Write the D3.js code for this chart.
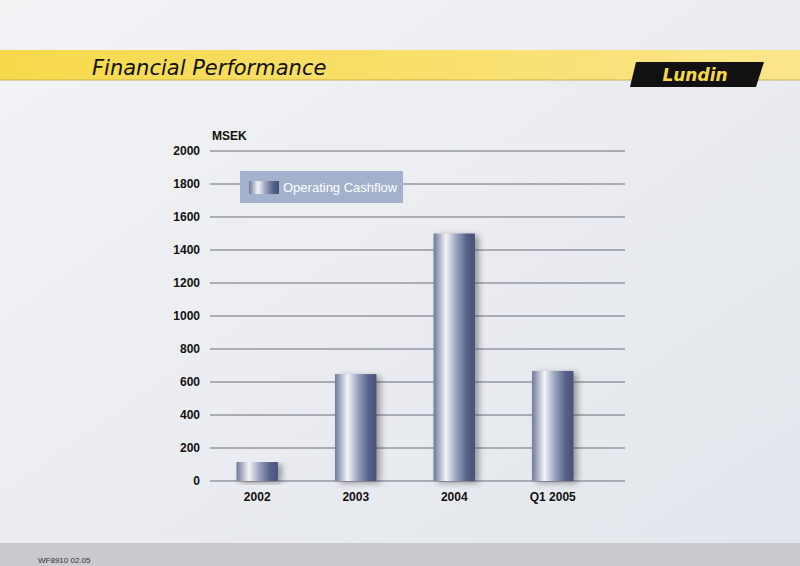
<!DOCTYPE html>
<html><head><meta charset="utf-8">
<script src="https://cdn.jsdelivr.net/npm/d3@7"></script>
<style>body{margin:0}svg{display:block}</style></head>
<body><svg id="c" width="800" height="566"></svg>
<script>
const categories=["2002","2003","2004","Q1 2005"];
const values=[115,648,1500,667];
const yTicks=[0,200,400,600,800,1000,1200,1400,1600,1800,2000];
const seriesName="Operating Cashflow";

const svg=d3.select("#c");
const defs=svg.append("defs");
const bg=defs.append("linearGradient").attr("id","bg").attr("x1",0).attr("x2",1).attr("y1",0).attr("y2",1);
bg.append("stop").attr("offset","0").attr("stop-color","#f2f3f5");
bg.append("stop").attr("offset","1").attr("stop-color","#e2e6ec");
const bar=defs.append("linearGradient").attr("id","bar");
[["0","#6e7898"],["0.3","#f4f5f8"],["0.55","#9aa3bd"],["0.8","#56628a"],["1","#46527a"]].forEach(s=>bar.append("stop").attr("offset",s[0]).attr("stop-color",s[1]));
const yel=defs.append("linearGradient").attr("id","yel");
yel.append("stop").attr("offset","0").attr("stop-color","#f6d94a");
yel.append("stop").attr("offset","1").attr("stop-color","#fbe58a");
const f=defs.append("filter").attr("id","sh").attr("x","-30%").attr("width","160%");
f.append("feGaussianBlur").attr("stdDeviation",3);

svg.append("rect").attr("width",800).attr("height",566).attr("fill","url(#bg)");
svg.append("rect").attr("y",543).attr("width",800).attr("height",23).attr("fill","#c9cacd");
svg.append("rect").attr("y",50).attr("width",800).attr("height",30).attr("fill","url(#yel)");
svg.append("line").attr("x1",0).attr("x2",800).attr("y1",80).attr("y2",80).attr("stroke","#c9b24a");
svg.append("text").attr("x",92).attr("y",75).attr("font-family","DejaVu Sans").attr("font-style","italic").attr("font-size",21).attr("fill","#111").text("Financial Performance");
svg.append("path").attr("d","M636,62 L764,62 L756,87 L630,87 Z").attr("fill","#111");
svg.append("text").attr("x",695).attr("y",81).attr("text-anchor","middle").attr("font-family","DejaVu Sans").attr("font-weight","bold").attr("font-style","italic").attr("font-size",17).attr("fill","#f6d94a").text("Lundin");

const y=d3.scaleLinear().domain([0,2000]).range([481,151]);
const x=d3.scaleBand().domain(categories).range([205,605]).paddingInner(0.58).paddingOuter(0.32);
const g=svg.append("g");
g.selectAll(".grid").data(yTicks).join("line").attr("x1",210).attr("x2",625).attr("y1",d=>y(d)).attr("y2",d=>y(d)).attr("stroke","#6a6f7a").attr("stroke-width",1);
g.selectAll(".yl").data(yTicks).join("text").attr("x",200).attr("y",d=>y(d)+4).attr("text-anchor","end").attr("font-family","Liberation Sans").attr("font-weight","bold").attr("font-size",12).attr("fill","#111").text(d=>d);
svg.append("text").attr("x",212).attr("y",140).attr("font-family","Liberation Sans").attr("font-weight","bold").attr("font-size",12).attr("fill","#111").text("MSEK");

g.selectAll(".sh").data(values).join("rect").attr("x",(d,i)=>x(categories[i])+4).attr("y",d=>y(d)+2).attr("width",x.bandwidth()).attr("height",d=>481-y(d)).attr("fill","#333").attr("opacity",0.45).attr("filter","url(#sh)");
g.selectAll(".b").data(values).join("rect").attr("x",(d,i)=>x(categories[i])).attr("y",d=>y(d)).attr("width",x.bandwidth()).attr("height",d=>481-y(d)).attr("fill","url(#bar)");
g.selectAll(".xl").data(categories).join("text").attr("x",d=>x(d)+x.bandwidth()/2).attr("y",501).attr("text-anchor","middle").attr("font-family","Liberation Sans").attr("font-weight","bold").attr("font-size",12).attr("fill","#111").text(d=>d);

svg.append("rect").attr("x",240).attr("y",171).attr("width",163).attr("height",32).attr("fill","#a3b1cc");
svg.append("rect").attr("x",249).attr("y",181).attr("width",30).attr("height",13).attr("fill","url(#bar)");
svg.append("text").attr("x",283).attr("y",192).attr("font-family","Liberation Sans").attr("font-size",13).attr("fill","#fff").text(seriesName);
svg.append("text").attr("x",38).attr("y",563).attr("font-family","Liberation Sans").attr("font-size",8).attr("fill","#333").text("WF8910 02.05");
</script></body></html>
